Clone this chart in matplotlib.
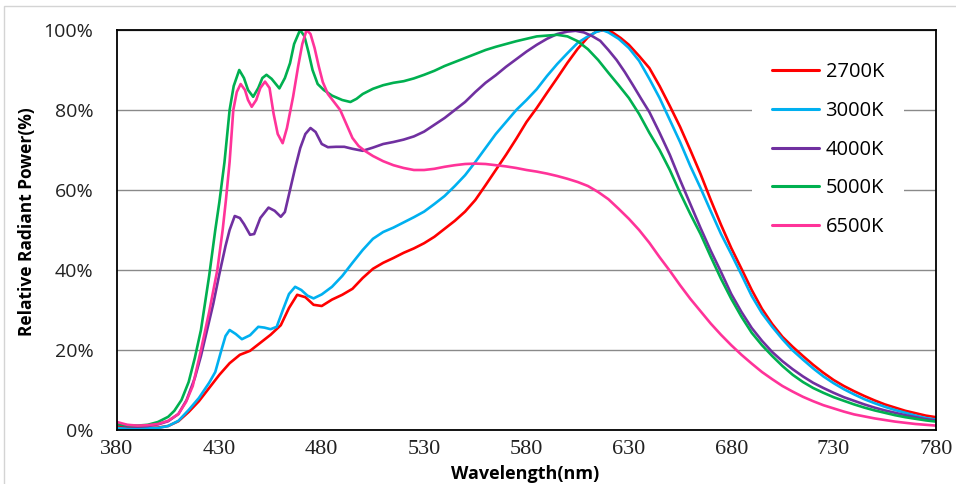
import matplotlib
matplotlib.use('Agg')
import matplotlib.pyplot as plt
from matplotlib.patches import Rectangle
from matplotlib.ticker import FuncFormatter

# ---------------- data ----------------
series_labels = ['2700K', '3000K', '4000K', '5000K', '6500K']
series_colors = ['#FF0000', '#00B0F0', '#7030A0', '#00B050', '#FF3399']

wl_2700 = [380, 385, 390, 395, 400, 405, 410, 415, 420, 425, 430, 435, 440, 445, 450, 455, 460, 464, 468, 472,
           476, 480, 485, 490, 495, 500, 505, 510, 515, 520, 525, 530, 535, 540, 545, 550, 555, 560, 565, 570,
           575, 580, 585, 590, 595, 600, 605, 610, 614, 618, 622, 626, 630, 635, 640, 645, 650, 655, 660, 665,
           670, 675, 680, 685, 690, 695, 700, 705, 710, 715, 720, 725, 730, 735, 740, 745, 750, 755, 760, 765,
           770, 775, 780]
p_2700 = [1.0, 0.6, 0.5, 0.5, 0.6, 1.0, 2.2, 4.5, 7.2, 10.5, 13.8, 16.7, 18.8, 19.8, 21.8, 23.8, 26.2, 30.5, 33.8, 33.2,
          31.3, 31.0, 32.6, 33.8, 35.3, 38.0, 40.3, 41.8, 43.0, 44.3, 45.4, 46.7, 48.3, 50.3, 52.3, 54.6, 57.5, 61.2, 65.0, 68.8,
          72.8, 77.0, 80.5, 84.3, 88.0, 91.8, 95.3, 98.2, 99.6, 100.0, 99.4, 98.0, 96.3, 93.5, 90.5, 86.0, 81.0, 75.8, 70.0, 64.0,
          57.5, 51.3, 45.5, 40.3, 35.0, 30.3, 26.5, 23.3, 20.8, 18.5, 16.3, 14.3, 12.5, 11.0, 9.7, 8.5, 7.4, 6.4, 5.6, 4.8,
          4.2, 3.6, 3.2]

wl_3000 = [380, 385, 390, 395, 400, 405, 410, 415, 420, 425, 428, 431, 433, 435, 438, 441, 445, 449, 452, 455,
           458, 461, 464, 467, 470, 473, 476, 480, 485, 490, 495, 500, 505, 510, 515, 520, 525, 530, 535, 540,
           545, 550, 555, 560, 565, 570, 575, 580, 585, 590, 595, 600, 605, 610, 614, 617, 620, 625, 630, 635,
           640, 645, 650, 655, 660, 665, 670, 675, 680, 685, 690, 695, 700, 705, 710, 715, 720, 725, 730, 735,
           740, 745, 750, 755, 760, 765, 770, 775, 780]
p_3000 = [0.5, 0.3, 0.3, 0.4, 0.5, 1.0, 2.3, 5.0, 8.0, 11.8, 14.5, 20.0, 23.5, 25.0, 24.0, 22.7, 23.7, 25.8, 25.6, 25.2,
          25.8, 30.0, 34.0, 35.8, 35.0, 33.6, 32.9, 33.9, 35.8, 38.5, 41.8, 45.0, 47.8, 49.5, 50.6, 51.9, 53.2, 54.6, 56.5, 58.5,
          61.0, 63.7, 67.0, 70.5, 74.0, 77.0, 80.0, 82.5, 85.2, 88.5, 91.5, 94.2, 96.8, 98.4, 99.5, 100.0, 99.4, 97.8, 95.5, 92.3,
          87.8, 83.0, 77.5, 72.0, 66.0, 60.5, 54.7, 49.0, 44.0, 38.8, 33.5, 29.2, 25.8, 22.7, 19.9, 17.6, 15.4, 13.4, 11.7, 10.2,
          8.9, 7.7, 6.7, 5.8, 5.0, 4.3, 3.6, 3.0, 2.6]

wl_4000 = [380, 385, 390, 395, 400, 405, 410, 414, 418, 421, 424, 427, 430, 433, 435, 437.5, 440, 442, 445, 447,
           450, 454, 457, 460, 462, 464.5, 467, 469.5, 472, 474.5, 477, 480, 483, 487, 491, 495, 500, 505, 510, 515,
           520, 525, 530, 535, 540, 545, 550, 555, 560, 565, 570, 575, 580, 585, 590, 595, 600, 604, 608, 612,
           616, 620, 624, 628, 632, 636, 640, 645, 650, 655, 660, 665, 670, 675, 680, 685, 690, 695, 700, 705,
           710, 715, 720, 725, 730, 735, 740, 745, 750, 755, 760, 765, 770, 775, 780]
p_4000 = [1.5, 1.0, 0.9, 1.0, 1.4, 2.2, 4.0, 7.5, 13.0, 18.5, 25.0, 31.5, 39.0, 46.0, 50.0, 53.5, 53.0, 51.5, 48.8, 49.0,
          53.0, 55.6, 54.8, 53.3, 54.5, 60.0, 65.5, 70.5, 74.0, 75.5, 74.5, 71.5, 70.7, 70.8, 70.8, 70.3, 69.8, 70.6, 71.5, 72.0,
          72.6, 73.4, 74.6, 76.3, 78.0, 80.0, 82.0, 84.5, 86.8, 88.7, 90.8, 92.7, 94.6, 96.3, 97.8, 99.0, 99.6, 99.8, 99.4, 98.5,
          97.3, 95.0, 92.5, 89.5, 86.2, 82.8, 79.5, 74.3, 68.8, 62.5, 56.5, 50.5, 44.8, 39.5, 34.0, 29.5, 25.5, 22.3, 19.5, 17.2,
          15.2, 13.4, 11.8, 10.5, 9.3, 8.2, 7.3, 6.4, 5.6, 4.9, 4.3, 3.7, 3.2, 2.7, 2.4]

wl_5000 = [380, 385, 390, 395, 400, 405, 408, 411.5, 415, 418, 421, 425, 428, 430, 432.5, 435, 437, 439.7, 442, 444,
           446.5, 449, 451, 453, 455.5, 459.3, 462, 464.5, 466.5, 469.4, 471.5, 473.5, 475.5, 478, 481, 485, 490, 494, 497, 500,
           505, 510, 515, 520, 525, 530, 535, 540, 545, 550, 555, 560, 565, 570, 575, 580, 585, 590, 595, 600,
           605, 610, 615, 620, 625, 630, 635, 640, 645, 650, 655, 660, 665, 670, 675, 680, 685, 690, 695, 700,
           705, 710, 715, 720, 725, 730, 735, 740, 745, 750, 755, 760, 765, 770, 775, 780]
p_5000 = [1.5, 1.2, 1.1, 1.3, 2.0, 3.3, 4.8, 7.5, 12.0, 18.0, 25.0, 38.5, 50.0, 57.0, 67.0, 80.0, 86.0, 90.0, 88.0, 85.0,
          83.3, 85.5, 88.0, 88.8, 87.8, 85.4, 88.0, 91.7, 96.5, 100.0, 98.5, 94.5, 90.0, 86.5, 85.0, 83.6, 82.5, 82.0, 82.8, 84.0,
          85.3, 86.2, 86.8, 87.2, 87.9, 88.8, 89.8, 91.0, 92.0, 93.0, 94.0, 95.0, 95.8, 96.5, 97.2, 97.8, 98.4, 98.6, 98.8, 98.4,
          97.2, 95.2, 92.5, 89.3, 86.2, 83.0, 79.0, 74.3, 70.0, 65.0, 59.3, 54.0, 49.0, 43.3, 37.8, 32.8, 28.3, 24.3, 21.2, 18.5,
          16.0, 13.8, 12.0, 10.5, 9.3, 8.2, 7.3, 6.4, 5.6, 4.9, 4.3, 3.7, 3.2, 2.8, 2.4, 2.1]

wl_6500 = [380, 385, 390, 395, 400, 405, 410, 413.7, 417, 421, 425, 429, 431.6, 433.2, 435, 436.8, 438.5, 440.4, 442.5, 444,
           445.8, 448, 450, 452.3, 454.5, 456.5, 458.5, 460.9, 463, 466, 468.5, 470.5, 472.6, 474.5, 476.5, 478.5, 480.5, 483, 486, 489,
           492, 495, 498, 501, 505, 510, 515, 520, 525, 530, 535, 540, 545, 550, 555, 560, 565, 570, 575, 580,
           585, 590, 595, 600, 605, 610, 615, 620, 625, 630, 635, 640, 645, 650, 655, 660, 665, 670, 675, 680,
           685, 690, 695, 700, 705, 710, 715, 720, 725, 730, 735, 740, 745, 750, 755, 760, 765, 770, 775, 780]
p_6500 = [2.0, 1.3, 1.1, 1.2, 1.5, 2.3, 4.0, 7.0, 11.0, 20.0, 29.5, 40.0, 50.0, 57.5, 67.0, 80.0, 84.5, 86.5, 85.0, 82.5,
          80.8, 82.5, 85.5, 87.1, 85.5, 79.0, 74.0, 71.7, 75.5, 83.3, 91.0, 96.5, 100.0, 99.0, 95.5, 91.0, 87.0, 84.0, 82.0, 80.0,
          76.5, 73.0, 71.0, 69.8, 68.5, 67.2, 66.2, 65.5, 65.0, 65.0, 65.3, 65.8, 66.2, 66.5, 66.6, 66.5, 66.2, 65.9, 65.5, 65.0,
          64.6, 64.1, 63.5, 62.8, 62.0, 61.0, 59.5, 57.7, 55.3, 52.8, 50.0, 46.8, 43.2, 39.8, 36.2, 32.8, 29.7, 26.6, 23.8, 21.2,
          18.8, 16.6, 14.5, 12.7, 11.0, 9.6, 8.3, 7.2, 6.2, 5.4, 4.6, 3.9, 3.4, 2.9, 2.5, 2.1, 1.8, 1.5, 1.3, 1.1]

x_ticks = [380, 430, 480, 530, 580, 630, 680, 730, 780]
y_ticks = [0, 20, 40, 60, 80, 100]
x_title = 'Wavelength(nm)'
y_title = 'Relative Radiant Power(%)'

series_wl = [wl_2700, wl_3000, wl_4000, wl_5000, wl_6500]
series_p = [p_2700, p_3000, p_4000, p_5000, p_6500]

# ---------------- figure ----------------
W, H = 956, 484
fig = plt.figure(figsize=(W / 100, H / 100), dpi=100)
fig.patch.set_facecolor('white')

# light outer frame
fig.patches.append(Rectangle((4 / W, -6 / H), 1.2, 1.0, transform=fig.transFigure,
                             fill=False, edgecolor='#d4d4d4', linewidth=1.0))

ax = fig.add_axes([117 / W, 1 - 430 / H, 819 / W, 400 / H])

for wl, p, c, lab in zip(series_wl, series_p, series_colors, series_labels):
    ax.plot(wl, p, color=c, linewidth=1.9, label=lab, solid_joinstyle='round',
            solid_capstyle='round')

ax.set_xlim(380, 780)
ax.set_ylim(0, 100)
ax.set_xticks(x_ticks)
ax.set_yticks(y_ticks)
ax.yaxis.set_major_formatter(FuncFormatter(lambda v, pos: f'{int(v)}%'))
ax.grid(axis='y', color='#8a8a8a', linewidth=1.0)
ax.grid(axis='x', visible=False)
ax.set_axisbelow(True)
ax.tick_params(axis='both', length=0)
ax.tick_params(axis='x', pad=7)
ax.tick_params(axis='y', pad=17)
for lbl in ax.get_xticklabels():
    lbl.set_fontfamily('Liberation Serif')
    lbl.set_fontsize(16)
    lbl.set_color('#222222')
for lbl in ax.get_yticklabels():
    lbl.set_fontfamily('Open Sans')
    lbl.set_fontsize(14)
    lbl.set_color('#222222')
for sp in ax.spines.values():
    sp.set_color('black')
    sp.set_linewidth(1.3)

ax.set_xlabel(x_title, fontfamily='Open Sans', fontweight='bold', fontsize=13, va='center')
ax.xaxis.set_label_coords((525 - 117) / 819, (430 - 474) / 400)
ax.set_ylabel(y_title, fontfamily='Open Sans', fontweight='bold', fontsize=12.5, va='center')
ax.yaxis.set_label_coords((27 - 117) / 819, (430 - 222) / 400)

leg = ax.legend(loc='upper left', bbox_to_anchor=((752 - 117) / 819, (430 - 42) / 400),
                borderaxespad=0, borderpad=1.0, frameon=True, fancybox=False,
                facecolor='white', edgecolor='none', framealpha=1.0,
                handlelength=2.35, handletextpad=0.3, labelspacing=0.93,
                prop={'family': 'Open Sans', 'size': 14.5})
for line in leg.get_lines():
    line.set_linewidth(2.2)

fig.savefig('out.png', dpi=100)
